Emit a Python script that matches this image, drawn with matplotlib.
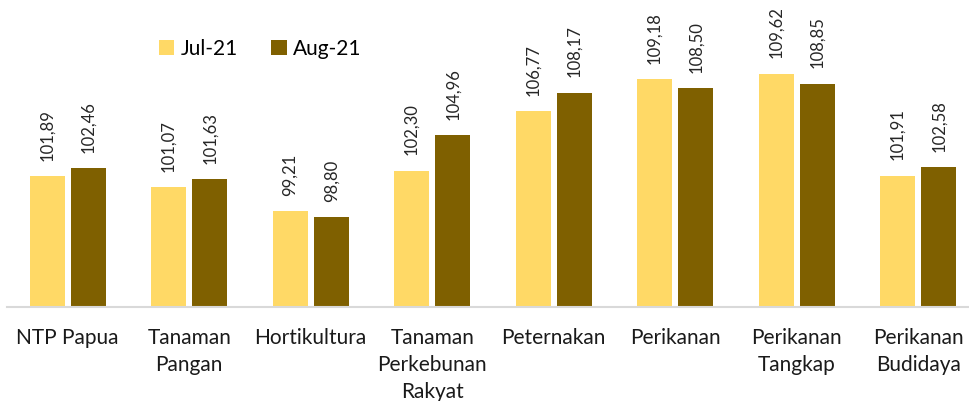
import matplotlib
matplotlib.use('Agg')
import matplotlib.pyplot as plt
import numpy as np

plt.rcParams['font.family'] = ['Lato', 'DejaVu Sans']

categories = ['NTP Papua', 'Tanaman\nPangan', 'Hortikultura', 'Tanaman\nPerkebunan\nRakyat',
              'Peternakan', 'Perikanan', 'Perikanan\nTangkap', 'Perikanan\nBudidaya']
jul21 = [101.89, 101.07, 99.21, 102.30, 106.77, 109.18, 109.62, 101.91]
aug21 = [102.46, 101.63, 98.80, 104.96, 108.17, 108.50, 108.85, 102.58]
series_names = ['Jul-21', 'Aug-21']

col_jul = '#FFD966'
col_aug = '#7F6000'

W, H = 969, 401
fig = plt.figure(figsize=(W / 100, H / 100), dpi=100)
# axes spans from x=7px to 979px (cropped on the right), y from 307px up to 0
ax = fig.add_axes([7 / W, (H - 307) / H, 972 / W, 307 / H])

x = np.arange(len(categories))
bw = 0.29
off = 0.169
b1 = ax.bar(x - off, jul21, bw, color=col_jul, label=series_names[0])
b2 = ax.bar(x + off, aug21, bw, color=col_aug, label=series_names[1])

ax.set_xlim(-0.5, len(categories) - 0.5)
ax.set_ylim(92, 115.17)

for bars, vals in ((b1, jul21), (b2, aug21)):
    for rect, v in zip(bars, vals):
        ax.annotate(('%.2f' % v).replace('.', ','),
                    (rect.get_x() + rect.get_width() / 2, v),
                    xytext=(0, 11), textcoords='offset points',
                    rotation=90, ha='center', va='bottom',
                    fontsize=12, color='#262626')

for s in ('top', 'right', 'left'):
    ax.spines[s].set_visible(False)
ax.spines['bottom'].set_color('#D9D9D9')
ax.spines['bottom'].set_linewidth(1.5)
ax.set_yticks([])
ax.set_xticks(x)
ax.set_xticklabels(categories, fontsize=15, color='#1a1a1a', linespacing=1.45, va='top')
ax.tick_params(axis='x', length=0, pad=15)

fig.legend(loc='center left', bbox_to_anchor=(140 / W, 1 - 49 / H), ncol=2,
           frameon=False, fontsize=15, handlelength=0.75, handleheight=0.75,
           handletextpad=0.3, columnspacing=1.6)

fig.savefig('out.png', dpi=100)
